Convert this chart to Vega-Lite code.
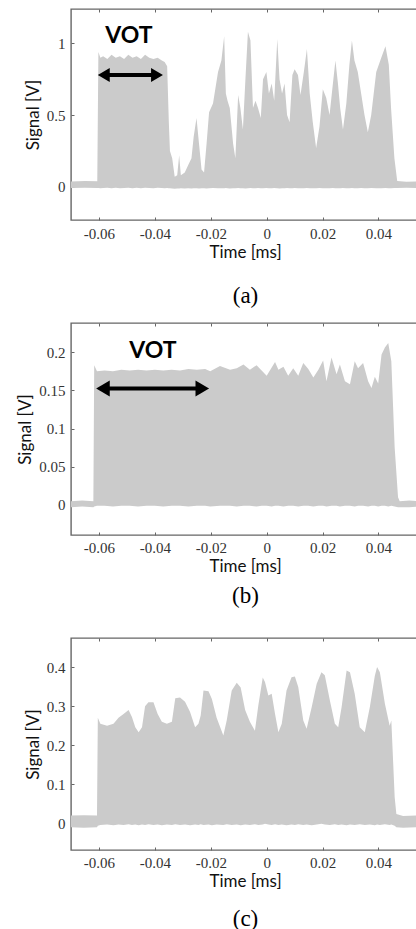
{
  "$schema": "https://vega.github.io/schema/vega-lite/v6.json",
  "padding": {"left": 16, "top": 7, "right": 0, "bottom": 0},
  "background": "white",
  "bounds": "flush",
  "spacing": 103,
  "config": {
    "view": {"stroke": "#666", "strokeWidth": 1.4},
    "axis": {
      "domain": false, "grid": false, "tickSize": -3, "tickColor": "#666", "tickWidth": 1,
      "labelFont": "Liberation Serif", "labelFontSize": 15, "labelColor": "#333", "labelPadding": 9,
      "titleFont": "Lato", "titleFontSize": 17, "titleFontWeight": "normal", "titleColor": "#111", "titlePadding": 4
    }
  },
  "datasets": {
    "sa": [
      {"t": -0.0700, "hi": 0.038, "lo": -0.008}, {"t": -0.0650, "hi": 0.040, "lo": -0.007}, {"t": -0.0606, "hi": 0.039, "lo": -0.008},
      {"t": -0.0602, "hi": 0.94, "lo": -0.008}, {"t": -0.0595, "hi": 0.90, "lo": -0.010}, {"t": -0.0585, "hi": 0.91, "lo": -0.008},
      {"t": -0.0570, "hi": 0.89, "lo": -0.006}, {"t": -0.0555, "hi": 0.92, "lo": -0.009}, {"t": -0.0540, "hi": 0.90, "lo": -0.007},
      {"t": -0.0525, "hi": 0.91, "lo": -0.010}, {"t": -0.0510, "hi": 0.89, "lo": -0.008}, {"t": -0.0495, "hi": 0.92, "lo": -0.006},
      {"t": -0.0480, "hi": 0.90, "lo": -0.009}, {"t": -0.0465, "hi": 0.91, "lo": -0.007}, {"t": -0.0450, "hi": 0.89, "lo": -0.009},
      {"t": -0.0435, "hi": 0.92, "lo": -0.006}, {"t": -0.0420, "hi": 0.90, "lo": -0.008}, {"t": -0.0405, "hi": 0.89, "lo": -0.010},
      {"t": -0.0390, "hi": 0.90, "lo": -0.007}, {"t": -0.0375, "hi": 0.88, "lo": -0.008}, {"t": -0.0365, "hi": 0.87, "lo": -0.009},
      {"t": -0.0356, "hi": 0.84, "lo": -0.008}, {"t": -0.0350, "hi": 0.45, "lo": -0.009}, {"t": -0.0346, "hi": 0.25, "lo": -0.010},
      {"t": -0.0338, "hi": 0.20, "lo": -0.012}, {"t": -0.0329, "hi": 0.07, "lo": -0.013}, {"t": -0.0320, "hi": 0.08, "lo": -0.011},
      {"t": -0.0313, "hi": 0.22, "lo": -0.012}, {"t": -0.0307, "hi": 0.08, "lo": -0.010}, {"t": -0.0293, "hi": 0.10, "lo": -0.011},
      {"t": -0.0281, "hi": 0.15, "lo": -0.010}, {"t": -0.0269, "hi": 0.20, "lo": -0.012}, {"t": -0.0261, "hi": 0.35, "lo": -0.010},
      {"t": -0.0251, "hi": 0.48, "lo": -0.009}, {"t": -0.0242, "hi": 0.30, "lo": -0.011}, {"t": -0.0233, "hi": 0.12, "lo": -0.010},
      {"t": -0.0224, "hi": 0.10, "lo": -0.009}, {"t": -0.0215, "hi": 0.30, "lo": -0.011}, {"t": -0.0206, "hi": 0.52, "lo": -0.010},
      {"t": -0.0192, "hi": 0.58, "lo": -0.008}, {"t": -0.0174, "hi": 0.80, "lo": -0.010}, {"t": -0.0162, "hi": 0.88, "lo": -0.009},
      {"t": -0.0152, "hi": 1.05, "lo": -0.010}, {"t": -0.0146, "hi": 0.65, "lo": -0.008}, {"t": -0.0140, "hi": 0.60, "lo": -0.009},
      {"t": -0.0132, "hi": 0.55, "lo": -0.011}, {"t": -0.0120, "hi": 0.30, "lo": -0.010}, {"t": -0.0112, "hi": 0.20, "lo": -0.009},
      {"t": -0.0102, "hi": 0.64, "lo": -0.008}, {"t": -0.0094, "hi": 0.55, "lo": -0.010}, {"t": -0.0085, "hi": 0.40, "lo": -0.009},
      {"t": -0.0076, "hi": 0.75, "lo": -0.011}, {"t": -0.0067, "hi": 1.08, "lo": -0.010}, {"t": -0.0058, "hi": 1.02, "lo": -0.008},
      {"t": -0.0049, "hi": 0.55, "lo": -0.009}, {"t": -0.0040, "hi": 0.60, "lo": -0.010}, {"t": -0.0031, "hi": 0.55, "lo": -0.008},
      {"t": -0.0021, "hi": 0.48, "lo": -0.009}, {"t": -0.0013, "hi": 0.75, "lo": -0.010}, {"t": -0.0001, "hi": 0.80, "lo": -0.008},
      {"t": 0.0008, "hi": 0.65, "lo": -0.009}, {"t": 0.0018, "hi": 0.72, "lo": -0.010}, {"t": 0.0027, "hi": 0.60, "lo": -0.008},
      {"t": 0.0038, "hi": 1.03, "lo": -0.009}, {"t": 0.0046, "hi": 0.75, "lo": -0.011}, {"t": 0.0055, "hi": 0.65, "lo": -0.010},
      {"t": 0.0064, "hi": 0.72, "lo": -0.009}, {"t": 0.0073, "hi": 0.50, "lo": -0.008}, {"t": 0.0082, "hi": 0.45, "lo": -0.010},
      {"t": 0.0092, "hi": 0.78, "lo": -0.009}, {"t": 0.0100, "hi": 0.82, "lo": -0.008}, {"t": 0.0112, "hi": 0.78, "lo": -0.010},
      {"t": 0.0121, "hi": 0.64, "lo": -0.009}, {"t": 0.0133, "hi": 0.80, "lo": -0.010}, {"t": 0.0144, "hi": 0.96, "lo": -0.008},
      {"t": 0.0154, "hi": 0.65, "lo": -0.009}, {"t": 0.0165, "hi": 0.45, "lo": -0.010}, {"t": 0.0177, "hi": 0.27, "lo": -0.009},
      {"t": 0.0189, "hi": 0.42, "lo": -0.008}, {"t": 0.0201, "hi": 0.68, "lo": -0.010}, {"t": 0.0213, "hi": 0.62, "lo": -0.009},
      {"t": 0.0225, "hi": 0.50, "lo": -0.010}, {"t": 0.0237, "hi": 0.72, "lo": -0.008}, {"t": 0.0246, "hi": 0.88, "lo": -0.009},
      {"t": 0.0255, "hi": 0.72, "lo": -0.010}, {"t": 0.0263, "hi": 0.55, "lo": -0.009}, {"t": 0.0273, "hi": 0.40, "lo": -0.008},
      {"t": 0.0285, "hi": 0.58, "lo": -0.010}, {"t": 0.0296, "hi": 0.85, "lo": -0.009}, {"t": 0.0305, "hi": 1.02, "lo": -0.008},
      {"t": 0.0314, "hi": 0.88, "lo": -0.010}, {"t": 0.0326, "hi": 0.80, "lo": -0.009}, {"t": 0.0338, "hi": 0.65, "lo": -0.008},
      {"t": 0.0350, "hi": 0.50, "lo": -0.010}, {"t": 0.0362, "hi": 0.38, "lo": -0.009}, {"t": 0.0374, "hi": 0.50, "lo": -0.008},
      {"t": 0.0392, "hi": 0.80, "lo": -0.010}, {"t": 0.0410, "hi": 0.90, "lo": -0.009}, {"t": 0.0425, "hi": 0.98, "lo": -0.008},
      {"t": 0.0437, "hi": 0.85, "lo": -0.010}, {"t": 0.0445, "hi": 0.55, "lo": -0.009}, {"t": 0.0457, "hi": 0.20, "lo": -0.008},
      {"t": 0.0467, "hi": 0.04, "lo": -0.008}, {"t": 0.0500, "hi": 0.035, "lo": -0.007}, {"t": 0.0545, "hi": 0.037, "lo": -0.008}
    ],
    "sb": [
      {"t": -0.0700, "hi": 0.005, "lo": -0.003}, {"t": -0.0660, "hi": 0.006, "lo": -0.002}, {"t": -0.0620, "hi": 0.005, "lo": -0.003},
      {"t": -0.0617, "hi": 0.183, "lo": -0.002}, {"t": -0.0607, "hi": 0.175, "lo": -0.001}, {"t": -0.0580, "hi": 0.176, "lo": -0.001},
      {"t": -0.0550, "hi": 0.175, "lo": -0.002}, {"t": -0.0520, "hi": 0.177, "lo": -0.001}, {"t": -0.0490, "hi": 0.176, "lo": -0.001},
      {"t": -0.0460, "hi": 0.177, "lo": -0.002}, {"t": -0.0430, "hi": 0.176, "lo": -0.001}, {"t": -0.0400, "hi": 0.177, "lo": -0.001},
      {"t": -0.0370, "hi": 0.176, "lo": -0.002}, {"t": -0.0340, "hi": 0.177, "lo": -0.001}, {"t": -0.0310, "hi": 0.176, "lo": -0.001},
      {"t": -0.0280, "hi": 0.178, "lo": -0.002}, {"t": -0.0250, "hi": 0.177, "lo": -0.001}, {"t": -0.0220, "hi": 0.178, "lo": -0.001},
      {"t": -0.0202, "hi": 0.175, "lo": -0.002}, {"t": -0.0167, "hi": 0.182, "lo": -0.001}, {"t": -0.0131, "hi": 0.177, "lo": -0.001},
      {"t": -0.0107, "hi": 0.179, "lo": -0.002}, {"t": -0.0083, "hi": 0.184, "lo": -0.001}, {"t": -0.0060, "hi": 0.177, "lo": -0.001},
      {"t": -0.0036, "hi": 0.183, "lo": -0.002}, {"t": -0.0018, "hi": 0.176, "lo": -0.001}, {"t": 0.0000, "hi": 0.169, "lo": -0.001},
      {"t": 0.0018, "hi": 0.180, "lo": -0.002}, {"t": 0.0030, "hi": 0.187, "lo": -0.001}, {"t": 0.0042, "hi": 0.177, "lo": -0.001},
      {"t": 0.0060, "hi": 0.181, "lo": -0.002}, {"t": 0.0077, "hi": 0.169, "lo": -0.001}, {"t": 0.0095, "hi": 0.179, "lo": -0.001},
      {"t": 0.0113, "hi": 0.169, "lo": -0.002}, {"t": 0.0131, "hi": 0.186, "lo": -0.001}, {"t": 0.0149, "hi": 0.178, "lo": -0.001},
      {"t": 0.0167, "hi": 0.167, "lo": -0.002}, {"t": 0.0185, "hi": 0.177, "lo": -0.001}, {"t": 0.0202, "hi": 0.189, "lo": -0.001},
      {"t": 0.0214, "hi": 0.162, "lo": -0.002}, {"t": 0.0232, "hi": 0.193, "lo": -0.001}, {"t": 0.0250, "hi": 0.171, "lo": -0.001},
      {"t": 0.0262, "hi": 0.184, "lo": -0.002}, {"t": 0.0280, "hi": 0.162, "lo": -0.001}, {"t": 0.0298, "hi": 0.158, "lo": -0.001},
      {"t": 0.0315, "hi": 0.188, "lo": -0.002}, {"t": 0.0327, "hi": 0.179, "lo": -0.001}, {"t": 0.0345, "hi": 0.186, "lo": -0.001},
      {"t": 0.0363, "hi": 0.162, "lo": -0.002}, {"t": 0.0375, "hi": 0.153, "lo": -0.001}, {"t": 0.0387, "hi": 0.168, "lo": -0.001},
      {"t": 0.0399, "hi": 0.159, "lo": -0.002}, {"t": 0.0411, "hi": 0.197, "lo": -0.001}, {"t": 0.0423, "hi": 0.206, "lo": -0.001},
      {"t": 0.0435, "hi": 0.212, "lo": -0.002}, {"t": 0.0446, "hi": 0.188, "lo": -0.001}, {"t": 0.0458, "hi": 0.075, "lo": -0.002},
      {"t": 0.0470, "hi": 0.010, "lo": -0.003}, {"t": 0.0476, "hi": 0.005, "lo": -0.003}, {"t": 0.0510, "hi": 0.006, "lo": -0.003},
      {"t": 0.0545, "hi": 0.005, "lo": -0.002}
    ],
    "sc": [
      {"t": -0.0700, "hi": 0.020, "lo": -0.010}, {"t": -0.0655, "hi": 0.021, "lo": -0.011}, {"t": -0.0607, "hi": 0.020, "lo": -0.010},
      {"t": -0.0604, "hi": 0.270, "lo": -0.006}, {"t": -0.0595, "hi": 0.255, "lo": -0.004}, {"t": -0.0571, "hi": 0.250, "lo": -0.003},
      {"t": -0.0548, "hi": 0.255, "lo": -0.005}, {"t": -0.0530, "hi": 0.270, "lo": -0.003}, {"t": -0.0512, "hi": 0.280, "lo": -0.004},
      {"t": -0.0494, "hi": 0.290, "lo": -0.002}, {"t": -0.0482, "hi": 0.272, "lo": -0.004}, {"t": -0.0470, "hi": 0.246, "lo": -0.003},
      {"t": -0.0458, "hi": 0.233, "lo": -0.005}, {"t": -0.0446, "hi": 0.246, "lo": -0.003}, {"t": -0.0435, "hi": 0.300, "lo": -0.004},
      {"t": -0.0423, "hi": 0.310, "lo": -0.002}, {"t": -0.0405, "hi": 0.310, "lo": -0.004}, {"t": -0.0390, "hi": 0.280, "lo": -0.003},
      {"t": -0.0375, "hi": 0.260, "lo": -0.005}, {"t": -0.0357, "hi": 0.255, "lo": -0.003}, {"t": -0.0339, "hi": 0.260, "lo": -0.004},
      {"t": -0.0327, "hi": 0.320, "lo": -0.002}, {"t": -0.0310, "hi": 0.322, "lo": -0.004}, {"t": -0.0292, "hi": 0.311, "lo": -0.003},
      {"t": -0.0274, "hi": 0.285, "lo": -0.005}, {"t": -0.0256, "hi": 0.246, "lo": -0.003}, {"t": -0.0244, "hi": 0.255, "lo": -0.004},
      {"t": -0.0236, "hi": 0.276, "lo": -0.002}, {"t": -0.0226, "hi": 0.340, "lo": -0.004}, {"t": -0.0208, "hi": 0.338, "lo": -0.003},
      {"t": -0.0196, "hi": 0.318, "lo": -0.005}, {"t": -0.0179, "hi": 0.270, "lo": -0.003}, {"t": -0.0155, "hi": 0.225, "lo": -0.004},
      {"t": -0.0143, "hi": 0.263, "lo": -0.002}, {"t": -0.0125, "hi": 0.340, "lo": -0.004}, {"t": -0.0107, "hi": 0.360, "lo": -0.003},
      {"t": -0.0093, "hi": 0.348, "lo": -0.005}, {"t": -0.0077, "hi": 0.290, "lo": -0.003}, {"t": -0.0060, "hi": 0.260, "lo": -0.004},
      {"t": -0.0042, "hi": 0.237, "lo": -0.002}, {"t": -0.0030, "hi": 0.301, "lo": -0.004}, {"t": -0.0014, "hi": 0.373, "lo": -0.003},
      {"t": -0.0006, "hi": 0.362, "lo": -0.001}, {"t": 0.0006, "hi": 0.327, "lo": -0.003}, {"t": 0.0018, "hi": 0.332, "lo": -0.004},
      {"t": 0.0030, "hi": 0.280, "lo": -0.002}, {"t": 0.0042, "hi": 0.233, "lo": -0.004}, {"t": 0.0054, "hi": 0.255, "lo": -0.003},
      {"t": 0.0071, "hi": 0.340, "lo": -0.005}, {"t": 0.0089, "hi": 0.374, "lo": -0.003}, {"t": 0.0101, "hi": 0.376, "lo": -0.004},
      {"t": 0.0113, "hi": 0.349, "lo": -0.002}, {"t": 0.0131, "hi": 0.263, "lo": -0.004}, {"t": 0.0143, "hi": 0.242, "lo": -0.003},
      {"t": 0.0161, "hi": 0.297, "lo": -0.005}, {"t": 0.0179, "hi": 0.357, "lo": -0.003}, {"t": 0.0196, "hi": 0.387, "lo": -0.001},
      {"t": 0.0208, "hi": 0.379, "lo": -0.003}, {"t": 0.0226, "hi": 0.315, "lo": -0.004}, {"t": 0.0244, "hi": 0.255, "lo": -0.002},
      {"t": 0.0256, "hi": 0.246, "lo": -0.004}, {"t": 0.0268, "hi": 0.297, "lo": -0.003}, {"t": 0.0286, "hi": 0.391, "lo": -0.005},
      {"t": 0.0298, "hi": 0.387, "lo": -0.003}, {"t": 0.0315, "hi": 0.332, "lo": -0.004}, {"t": 0.0333, "hi": 0.246, "lo": -0.002},
      {"t": 0.0351, "hi": 0.233, "lo": -0.004}, {"t": 0.0369, "hi": 0.297, "lo": -0.003}, {"t": 0.0387, "hi": 0.378, "lo": -0.005},
      {"t": 0.0395, "hi": 0.400, "lo": -0.003}, {"t": 0.0405, "hi": 0.387, "lo": -0.004}, {"t": 0.0423, "hi": 0.306, "lo": -0.002},
      {"t": 0.0440, "hi": 0.250, "lo": -0.004}, {"t": 0.0446, "hi": 0.263, "lo": -0.003}, {"t": 0.0458, "hi": 0.067, "lo": -0.006},
      {"t": 0.0464, "hi": 0.024, "lo": -0.010}, {"t": 0.0488, "hi": 0.019, "lo": -0.011}, {"t": 0.0545, "hi": 0.020, "lo": -0.010}
    ],
    "aa": [{"x1": -0.0604, "x2": -0.0371, "s1": -0.0588, "s2": -0.0387, "y": 0.779, "tx": -0.0493, "ty": 1.053, "label": "VOT"}],
    "ab": [{"x1": -0.0610, "x2": -0.0206, "s1": -0.0592, "s2": -0.0224, "y": 0.1526, "tx": -0.0407, "ty": 0.202, "label": "VOT"}]
  },
  "vconcat": [
    {
      "width": 348, "height": 211,
      "layer": [
        {
          "data": {"name": "sa"},
          "mark": {"type": "area", "color": "#cbcbcb", "interpolate": "linear"},
          "encoding": {
            "x": {"field": "t", "type": "quantitative", "scale": {"domain": [-0.07, 0.0545], "nice": false, "zero": false},
                  "axis": {"orient": "bottom", "title": "Time [ms]", "titlePadding": 3, "values": [-0.06, -0.04, -0.02, 0, 0.02, 0.04],
                           "labelExpr": "(datum.value < 0 ? '-' : '') + format(abs(datum.value), '.2~f')"}},
            "y": {"field": "hi", "type": "quantitative", "scale": {"domain": [-0.231, 1.239], "nice": false, "zero": false},
                  "axis": {"orient": "left", "title": "Signal [V]", "values": [0, 0.5, 1], "format": "~g"}},
            "y2": {"field": "lo"}
          }
        },
        {
          "data": {"name": "sa"},
          "mark": {"type": "area", "opacity": 0},
          "encoding": {
            "x": {"field": "t", "type": "quantitative", "scale": {"domain": [-0.07, 0.0545], "nice": false, "zero": false},
                  "axis": {"orient": "top", "title": null, "labels": false, "values": [-0.06, -0.04, -0.02, 0, 0.02, 0.04]}},
            "y": {"field": "hi", "type": "quantitative", "scale": {"domain": [-0.231, 1.239], "nice": false, "zero": false},
                  "axis": {"orient": "right", "title": null, "labels": false, "values": [0, 0.5, 1]}},
            "y2": {"field": "lo"}
          }
        },
        {
          "data": {"name": "sa"},
          "mark": {"type": "area", "opacity": 0},
          "encoding": {
            "x": {"field": "t", "type": "quantitative", "scale": {"domain": [-0.07, 0.0545], "nice": false, "zero": false},
                  "axis": {"orient": "bottom", "title": "(a)", "labels": false, "ticks": false, "domain": false,
                           "titleFont": "Liberation Serif", "titleFontSize": 23, "titleColor": "#000", "titlePadding": 64}},
            "y": {"field": "hi", "type": "quantitative", "scale": {"domain": [-0.231, 1.239], "nice": false, "zero": false}, "axis": null},
            "y2": {"field": "lo"}
          }
        },
        {
          "data": {"name": "aa"},
          "mark": {"type": "rule", "color": "#000", "strokeWidth": 4, "strokeCap": "butt"},
          "encoding": {
            "x": {"field": "s1", "type": "quantitative", "axis": null},
            "x2": {"field": "s2"},
            "y": {"field": "y", "type": "quantitative", "axis": null}
          }
        },
        {
          "data": {"name": "aa"},
          "mark": {"type": "point", "shape": "M0,0L1.7,-1L1.7,1Z", "filled": true, "color": "#000", "opacity": 1, "size": 196},
          "encoding": {
            "x": {"field": "x1", "type": "quantitative", "axis": null},
            "y": {"field": "y", "type": "quantitative", "axis": null}
          }
        },
        {
          "data": {"name": "aa"},
          "mark": {"type": "point", "shape": "M0,0L-1.7,-1L-1.7,1Z", "filled": true, "color": "#000", "opacity": 1, "size": 196},
          "encoding": {
            "x": {"field": "x2", "type": "quantitative", "axis": null},
            "y": {"field": "y", "type": "quantitative", "axis": null}
          }
        },
        {
          "data": {"name": "aa"},
          "mark": {"type": "text", "font": "Lato", "fontWeight": "bold", "fontSize": 23, "color": "#000", "align": "center", "baseline": "middle"},
          "encoding": {
            "x": {"field": "tx", "type": "quantitative", "axis": null},
            "y": {"field": "ty", "type": "quantitative", "axis": null},
            "text": {"field": "label"}
          }
        }
      ],
      "resolve": {"axis": {"x": "independent", "y": "independent"}}
    },
    {
      "width": 348, "height": 212,
      "layer": [
        {
          "data": {"name": "sb"},
          "mark": {"type": "area", "color": "#cbcbcb", "interpolate": "linear"},
          "encoding": {
            "x": {"field": "t", "type": "quantitative", "scale": {"domain": [-0.07, 0.0545], "nice": false, "zero": false},
                  "axis": {"orient": "bottom", "title": "Time [ms]", "titlePadding": 3, "labelPadding": 8, "values": [-0.06, -0.04, -0.02, 0, 0.02, 0.04],
                           "labelExpr": "(datum.value < 0 ? '-' : '') + format(abs(datum.value), '.2~f')"}},
            "y": {"field": "hi", "type": "quantitative", "scale": {"domain": [-0.0393, 0.2382], "nice": false, "zero": false},
                  "axis": {"orient": "left", "title": "Signal [V]", "values": [0, 0.05, 0.1, 0.15, 0.2], "format": "~g"}},
            "y2": {"field": "lo"}
          }
        },
        {
          "data": {"name": "sb"},
          "mark": {"type": "area", "opacity": 0},
          "encoding": {
            "x": {"field": "t", "type": "quantitative", "scale": {"domain": [-0.07, 0.0545], "nice": false, "zero": false},
                  "axis": {"orient": "top", "title": null, "labels": false, "values": [-0.06, -0.04, -0.02, 0, 0.02, 0.04]}},
            "y": {"field": "hi", "type": "quantitative", "scale": {"domain": [-0.0393, 0.2382], "nice": false, "zero": false},
                  "axis": {"orient": "right", "title": null, "labels": false, "values": [0, 0.05, 0.1, 0.15, 0.2]}},
            "y2": {"field": "lo"}
          }
        },
        {
          "data": {"name": "sb"},
          "mark": {"type": "area", "opacity": 0},
          "encoding": {
            "x": {"field": "t", "type": "quantitative", "scale": {"domain": [-0.07, 0.0545], "nice": false, "zero": false},
                  "axis": {"orient": "bottom", "title": "(b)", "labels": false, "ticks": false, "domain": false,
                           "titleFont": "Liberation Serif", "titleFontSize": 23, "titleColor": "#000", "titlePadding": 49}},
            "y": {"field": "hi", "type": "quantitative", "scale": {"domain": [-0.0393, 0.2382], "nice": false, "zero": false}, "axis": null},
            "y2": {"field": "lo"}
          }
        },
        {
          "data": {"name": "ab"},
          "mark": {"type": "rule", "color": "#000", "strokeWidth": 4, "strokeCap": "butt"},
          "encoding": {
            "x": {"field": "s1", "type": "quantitative", "axis": null},
            "x2": {"field": "s2"},
            "y": {"field": "y", "type": "quantitative", "axis": null}
          }
        },
        {
          "data": {"name": "ab"},
          "mark": {"type": "point", "shape": "M0,0L1.7,-1L1.7,1Z", "filled": true, "color": "#000", "opacity": 1, "size": 256},
          "encoding": {
            "x": {"field": "x1", "type": "quantitative", "axis": null},
            "y": {"field": "y", "type": "quantitative", "axis": null}
          }
        },
        {
          "data": {"name": "ab"},
          "mark": {"type": "point", "shape": "M0,0L-1.7,-1L-1.7,1Z", "filled": true, "color": "#000", "opacity": 1, "size": 256},
          "encoding": {
            "x": {"field": "x2", "type": "quantitative", "axis": null},
            "y": {"field": "y", "type": "quantitative", "axis": null}
          }
        },
        {
          "data": {"name": "ab"},
          "mark": {"type": "text", "font": "Lato", "fontWeight": "bold", "fontSize": 23, "color": "#000", "align": "center", "baseline": "middle"},
          "encoding": {
            "x": {"field": "tx", "type": "quantitative", "axis": null},
            "y": {"field": "ty", "type": "quantitative", "axis": null},
            "text": {"field": "label"}
          }
        }
      ],
      "resolve": {"axis": {"x": "independent", "y": "independent"}}
    },
    {
      "width": 348, "height": 212,
      "layer": [
        {
          "data": {"name": "sc"},
          "mark": {"type": "area", "color": "#cbcbcb", "interpolate": "linear"},
          "encoding": {
            "x": {"field": "t", "type": "quantitative", "scale": {"domain": [-0.07, 0.0545], "nice": false, "zero": false},
                  "axis": {"orient": "bottom", "title": "Time [ms]", "titlePadding": 3, "labelPadding": 8, "values": [-0.06, -0.04, -0.02, 0, 0.02, 0.04],
                           "labelExpr": "(datum.value < 0 ? '-' : '') + format(abs(datum.value), '.2~f')"}},
            "y": {"field": "hi", "type": "quantitative", "scale": {"domain": [-0.0682, 0.4744], "nice": false, "zero": false},
                  "axis": {"orient": "left", "title": "Signal [V]", "values": [0, 0.1, 0.2, 0.3, 0.4], "format": "~g"}},
            "y2": {"field": "lo"}
          }
        },
        {
          "data": {"name": "sc"},
          "mark": {"type": "area", "opacity": 0},
          "encoding": {
            "x": {"field": "t", "type": "quantitative", "scale": {"domain": [-0.07, 0.0545], "nice": false, "zero": false},
                  "axis": {"orient": "top", "title": null, "labels": false, "values": [-0.06, -0.04, -0.02, 0, 0.02, 0.04]}},
            "y": {"field": "hi", "type": "quantitative", "scale": {"domain": [-0.0682, 0.4744], "nice": false, "zero": false},
                  "axis": {"orient": "right", "title": null, "labels": false, "values": [0, 0.1, 0.2, 0.3, 0.4]}},
            "y2": {"field": "lo"}
          }
        },
        {
          "data": {"name": "sc"},
          "mark": {"type": "area", "opacity": 0},
          "encoding": {
            "x": {"field": "t", "type": "quantitative", "scale": {"domain": [-0.07, 0.0545], "nice": false, "zero": false},
                  "axis": {"orient": "bottom", "title": "(c)", "labels": false, "ticks": false, "domain": false,
                           "titleFont": "Liberation Serif", "titleFontSize": 23, "titleColor": "#000", "titlePadding": 57}},
            "y": {"field": "hi", "type": "quantitative", "scale": {"domain": [-0.0682, 0.4744], "nice": false, "zero": false}, "axis": null},
            "y2": {"field": "lo"}
          }
        }
      ],
      "resolve": {"axis": {"x": "independent", "y": "independent"}}
    }
  ]
}
